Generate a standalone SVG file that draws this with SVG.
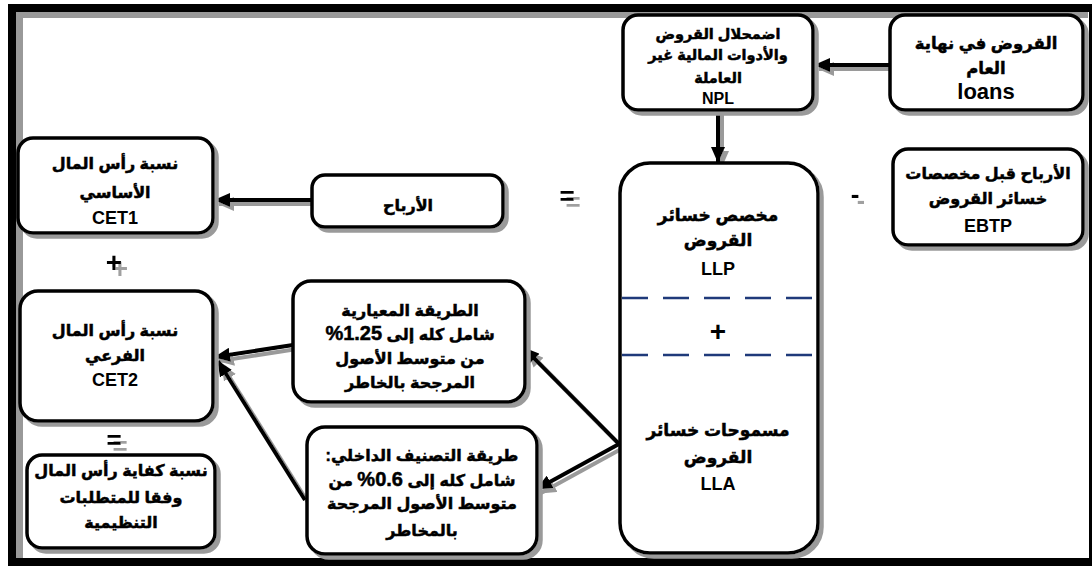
<svg xmlns="http://www.w3.org/2000/svg" width="1092" height="568" viewBox="0 0 1092 568">
<defs>
<style>
.box{fill:#fff;stroke:#000;stroke-width:3.5;filter:url(#sh)}
.t{font-family:"Liberation Sans","DejaVu Sans",sans-serif;font-weight:bold;font-size:16px;fill:#000;stroke:#000;stroke-width:0.5;text-anchor:middle;direction:rtl}
.lat{font-family:"Liberation Sans","DejaVu Sans",sans-serif;font-weight:bold;font-size:17px;fill:#000;text-anchor:middle}
.sym{font-family:"Liberation Sans","DejaVu Sans",sans-serif;font-weight:bold;fill:#000;text-anchor:middle;filter:url(#sh2)}
.ln{stroke:#000;stroke-width:4;fill:none;marker-end:url(#ah)}
.dash{stroke:#1f3a7a;stroke-width:2.5;stroke-dasharray:26 15;fill:none}
</style>
<filter id="sh" x="-10%" y="-10%" width="130%" height="130%">
<feOffset in="SourceAlpha" dx="4" dy="4" result="o"/>
<feFlood flood-color="#9a9a9a"/>
<feComposite in2="o" operator="in" result="s"/>
<feMerge><feMergeNode in="s"/><feMergeNode in="SourceGraphic"/></feMerge>
</filter>
<filter id="sh2" x="-50%" y="-50%" width="200%" height="200%">
<feOffset in="SourceAlpha" dx="6" dy="6" result="o"/>
<feFlood flood-color="#a0a0a0"/>
<feComposite in2="o" operator="in" result="s"/>
<feMerge><feMergeNode in="s"/><feMergeNode in="SourceGraphic"/></feMerge>
</filter>
<marker id="ah" markerUnits="userSpaceOnUse" markerWidth="16" markerHeight="14" refX="15" refY="7" orient="auto">
<path d="M0,0 L16,7 L0,14 z" fill="#000"/>
</marker>
</defs>
<rect width="1092" height="568" fill="#fff"/>
<g id="frame">
<line x1="16" y1="15" x2="1088" y2="15" stroke="#999" stroke-width="6"/>
<line x1="19.5" y1="12" x2="19.5" y2="558" stroke="#999" stroke-width="7"/>
<rect x="12" y="8" width="1081" height="554" fill="none" stroke="#000" stroke-width="8"/>
</g>
<g id="connectors" filter="url(#sh)">
<line class="ln" x1="890" y1="65" x2="815" y2="65"/>
<line class="ln" x1="718" y1="110" x2="718" y2="162"/>
<line class="ln" x1="312" y1="200" x2="215" y2="200"/>
<line class="ln" x1="293" y1="345" x2="215" y2="357"/>
<line class="ln" x1="305" y1="500" x2="218" y2="361"/>
<line class="ln" x1="619" y1="444" x2="524" y2="348"/>
<line class="ln" x1="619" y1="444" x2="537" y2="489"/>
</g>
<g id="loans">
<rect class="box" x="890" y="15" width="193" height="95" rx="15"/>
<text class="t" x="986" y="49" style="font-size:16.5px">القروض في نهاية</text>
<text class="t" x="986" y="74" style="font-size:16.5px">العام</text>
<text class="lat" x="986" y="99" style="font-size:22px">loans</text>
</g>
<g id="npl">
<rect class="box" x="623" y="15" width="190" height="95" rx="15"/>
<text class="t" x="718" y="39" style="font-size:14.5px">اضمحلال القروض</text>
<text class="t" x="718" y="60" style="font-size:14.5px">والأدوات المالية غير</text>
<text class="t" x="718" y="83" style="font-size:14.5px">العاملة</text>
<text class="lat" x="718" y="104" style="font-size:16px">NPL</text>
</g>
<g id="llp-lla">
<rect class="box" x="620" y="163" width="198" height="390" rx="30"/>
<text class="t" x="718" y="221" style="font-size:17px">مخصص خسائر</text>
<text class="t" x="718" y="246" style="font-size:17px">القروض</text>
<text class="lat" x="718" y="275" style="font-size:18px">LLP</text>
<line class="dash" x1="622" y1="298" x2="816" y2="298"/>
<line class="dash" x1="622" y1="355" x2="816" y2="355"/>
<text class="lat" x="718" y="341" style="font-size:28px">+</text>
<text class="t" x="718" y="436" style="font-size:17px">مسموحات خسائر</text>
<text class="t" x="718" y="463" style="font-size:17px">القروض</text>
<text class="lat" x="718" y="490" style="font-size:18px">LLA</text>
</g>
<g id="ebtp">
<rect class="box" x="893" y="149" width="190" height="96" rx="15"/>
<text class="t" x="988" y="179">الأرباح قبل مخصصات</text>
<text class="t" x="988" y="204">خسائر القروض</text>
<text class="lat" x="988" y="232" style="font-size:18px">EBTP</text>
</g>
<g id="cet1">
<rect class="box" x="18" y="138" width="195" height="95" rx="15"/>
<text class="t" x="115" y="169">نسبة رأس المال</text>
<text class="t" x="115" y="198">الأساسي</text>
<text class="lat" x="115" y="224" style="font-size:18px">CET1</text>
</g>
<g id="profits">
<rect class="box" x="312" y="175" width="191" height="52" rx="13"/>
<text class="t" x="408" y="211">الأرباح</text>
</g>
<g id="cet2">
<rect class="box" x="20" y="291" width="193" height="130" rx="18"/>
<text class="t" x="115" y="336">نسبة رأس المال</text>
<text class="t" x="115" y="361">الفرعي</text>
<text class="lat" x="115" y="386" style="font-size:18px">CET2</text>
</g>
<g id="car">
<rect class="box" x="27" y="455" width="188" height="93" rx="15"/>
<text class="t" x="121" y="476">نسبة كفاية رأس المال</text>
<text class="t" x="121" y="503">وفقا للمتطلبات</text>
<text class="t" x="121" y="528">التنظيمية</text>
</g>
<g id="standard">
<rect class="box" x="293" y="281" width="232" height="121" rx="18"/>
<text class="t" x="410" y="316">الطريقة المعيارية</text>
<text class="t" x="410" y="340">شامل كله إلى <tspan style="font-size:20px">1.25%</tspan></text>
<text class="t" x="410" y="364">من متوسط الأصول</text>
<text class="t" x="410" y="388">المرجحة بالخاطر</text>
</g>
<g id="internal">
<rect class="box" x="307" y="427" width="230" height="127" rx="18"/>
<text class="t" x="422" y="461">طريقة التصنيف الداخلي:</text>
<text class="t" x="422" y="486">شامل كله إلى <tspan style="font-size:20px">0.6%</tspan> من</text>
<text class="t" x="422" y="509">متوسط الأصول المرجحة</text>
<text class="t" x="422" y="536">بالمخاطر</text>
</g>
<g id="signs">
<text class="sym" x="567" y="205" style="font-size:26px">=</text>
<text class="sym" x="855" y="203" style="font-size:26px">-</text>
<text class="sym" x="114" y="272" style="font-size:28px">+</text>
<text class="sym" x="114" y="449" style="font-size:26px">=</text>
</g>
</svg>
